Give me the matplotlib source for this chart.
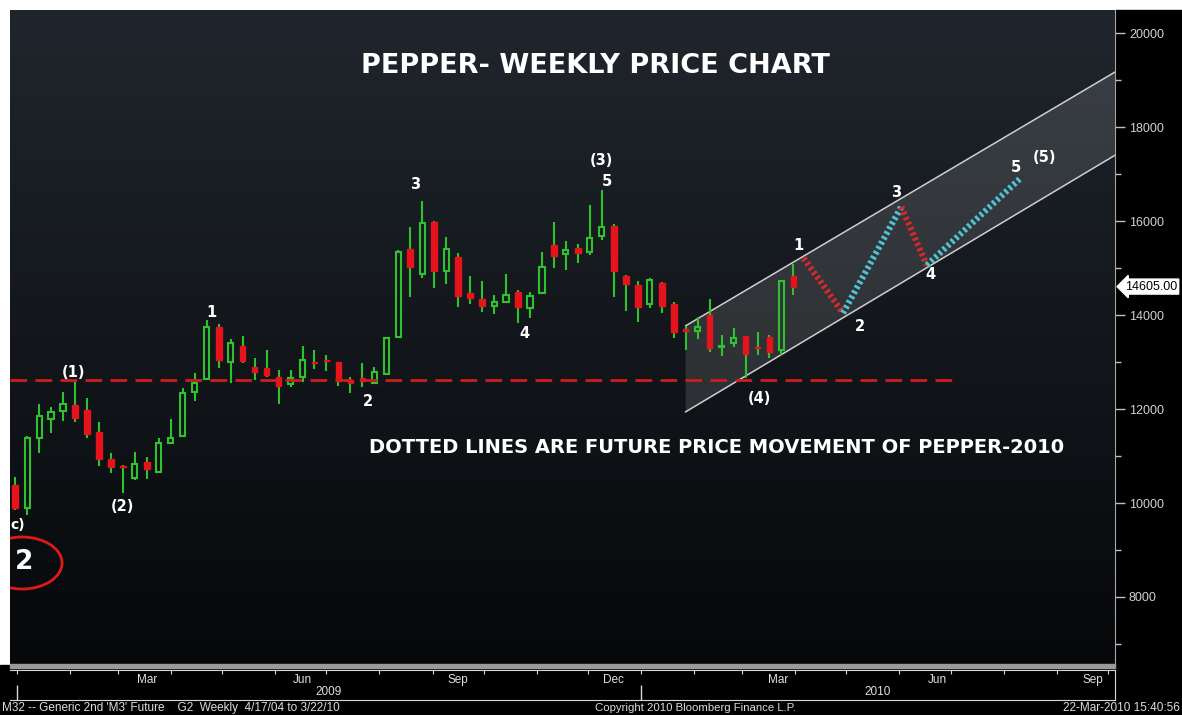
import numpy as np
import pandas as pd
import matplotlib
matplotlib.use("Agg")
from matplotlib import pyplot as plt
from matplotlib import dates as mdates
from matplotlib.patches import Ellipse, Rectangle, Polygon

# weekly candles
week_dates = pd.date_range("2008-12-31", periods=66, freq="7D")
opens = [10380, 9890, 11380, 11790, 11960, 12080, 11980, 11510, 10940, 10780,
         10530, 10870, 10660, 11280, 11430, 12360, 12640, 13750, 13000, 13340,
         12890, 12870, 12680, 12530, 12680, 13000, 13040, 13000, 12620, 12660,
         12550, 12750, 13530, 15400, 14870, 15980, 14940, 15230, 14470, 14340,
         14190, 14280, 14490, 14150, 14470, 15490, 15300, 15420, 15340, 15680,
         15890, 14830, 14640, 14230, 14680, 14230, 13700, 13660, 14000, 13320,
         13400, 13550, 13310, 13530, 13260, 14830]
highs = [10550, 11430, 12100, 12040, 12360, 12570, 12230, 11720, 11060, 10800,
         11080, 10980, 11380, 11790, 12450, 12770, 13890, 13810, 13490, 13550,
         13090, 13260, 12830, 12830, 13340, 13260, 13150, 13010, 12680, 12980,
         12890, 13530, 15380, 15870, 16430, 16000, 15660, 15320, 14830, 14720,
         14430, 14870, 14530, 14490, 15340, 15980, 15570, 15510, 16340, 16660,
         15940, 14850, 14720, 14790, 14700, 14280, 13770, 13960, 14340, 13570,
         13720, 13560, 13640, 13570, 14750, 15090]
lows = [9850, 9745, 11060, 11490, 11750, 11720, 11380, 10790, 10640, 10210,
        10490, 10510, 10640, 11250, 11400, 12170, 12620, 12870, 12550, 12980,
        12620, 12680, 12110, 12470, 12570, 12850, 12810, 12490, 12340, 12470,
        12530, 12720, 13530, 14380, 14790, 14570, 14660, 14170, 14230, 14060,
        14020, 14250, 13830, 13940, 14450, 15000, 14960, 15110, 15280, 15600,
        14380, 14090, 13850, 14150, 14040, 13510, 13260, 13490, 13210, 13130,
        13320, 12650, 13150, 13090, 13150, 14430]
closes = [9890, 11380, 11850, 11940, 12100, 11810, 11470, 10940, 10770, 10760,
          10830, 10720, 11280, 11380, 12340, 12550, 13750, 13040, 13400, 13020,
          12790, 12720, 12490, 12660, 13040, 12980, 13020, 12600, 12550, 12600,
          12790, 13510, 15340, 15020, 15960, 14940, 15400, 14400, 14360, 14190,
          14280, 14430, 14170, 14400, 15020, 15250, 15380, 15320, 15640, 15870,
          14940, 14660, 14170, 14750, 14190, 13640, 13660, 13750, 13300, 13340,
          13510, 13170, 13290, 13210, 14720, 14605]
last_price = 14605

# support line and trend channel
support_level = 12620
support_end = "2010-07-06"
channel_dates = ["2010-01-27", "2010-10-05"]
channel_upper = [13770, 19170]
channel_lower = [11940, 17400]

# projected (dotted) wave path
path_dates = ["2010-04-06", "2010-04-29", "2010-06-02", "2010-06-17", "2010-08-11"]
path_prices = [15210, 14040, 16300, 15060, 16920]
path_colors = ["#d42a2a", "#4fc3d3", "#d42a2a", "#4fc3d3"]

# wave count labels
wave_labels = ["(1)", "(2)", "1", "2", "3", "4", "(3)", "5", "(4)",
               "1", "2", "3", "4", "5", "(5)"]
wave_dates = ["2009-02-03", "2009-03-04", "2009-04-25", "2009-07-25", "2009-08-22",
              "2009-10-25", "2009-12-09", "2009-12-12", "2010-03-11",
              "2010-04-03", "2010-05-09", "2010-05-30", "2010-06-19", "2010-08-08",
              "2010-08-25"]
wave_prices = [12787, 9936, 14064, 12170, 16787, 13617, 17298, 16851, 12234,
               15489, 13745, 16617, 14872, 17149, 17362]

month_labels = ["Mar", "Jun", "Sep", "Dec", "Mar", "Jun", "Sep"]
month_label_dates = ["2009-03-18", "2009-06-17", "2009-09-16", "2009-12-16",
                     "2010-03-22", "2010-06-23", "2010-09-22"]

GREEN = "#2fc22f"
RED = "#e6121c"
BOLD_FONT = ["DejaVu Sans"]

plt.rcParams["font.family"] = ["Liberation Sans", "DejaVu Sans"]

W, H = 1182, 715
fig = plt.figure(figsize=(W / 100, H / 100), dpi=100, facecolor="white")

# black right column and bottom strip
fig.patches.append(Rectangle((1115 / W, 0), 1 - 1115 / W, 1 - 10 / H,
                             transform=fig.transFigure, color="black", zorder=0))
fig.patches.append(Rectangle((0, 0), 1, 50 / H, transform=fig.transFigure,
                             color="black", zorder=0))
# scroll bar
fig.patches.append(Rectangle((10 / W, (715 - 668) / H), 1105 / W, 4 / H,
                             transform=fig.transFigure, color="#9a9a9a", zorder=1))

pos = [10 / W, 50 / H, 1105 / W, 655 / H]

# gradient background
bg = fig.add_axes(pos, zorder=0)
top = np.array([32, 38, 45]) / 255
bot = np.array([6, 8, 10]) / 255
t = np.linspace(0, 1, 256)[:, None]
grad = (top * (1 - t) + bot * t)[:, None, :]
bg.imshow(grad, aspect="auto", extent=[0, 1, 0, 1])
bg.set_axis_off()

ax = fig.add_axes(pos, zorder=1)
ax.set_facecolor("none")

x = mdates.date2num(week_dates)
o = np.array(opens, float)
c = np.array(closes, float)
hi = np.array(highs, float)
lo = np.array(lows, float)
body_top = np.maximum(o, c)
body_bot = np.minimum(o, c)
up = c >= o

ax.vlines(x, body_top, hi, color=GREEN, lw=1.5, zorder=3)
ax.vlines(x, lo, body_bot, color=GREEN, lw=1.5, zorder=3)
ax.bar(x[up], np.maximum(c[up] - o[up], 15), bottom=o[up], width=3.0,
       facecolor="none", edgecolor=GREEN, lw=1.5, zorder=4)
ax.bar(x[~up], np.maximum(o[~up] - c[~up], 15), bottom=c[~up], width=3.3,
       facecolor=RED, edgecolor=RED, lw=1.0, zorder=4)

# support line
xl0 = mdates.date2num(pd.Timestamp("2008-12-28"))
xl1 = mdates.date2num(pd.Timestamp("2010-10-05"))
ax.plot([xl0, mdates.date2num(pd.Timestamp(support_end))],
        [support_level, support_level], color="#d01c1c", lw=2,
        dashes=(6, 3), zorder=5)

# channel
cx = mdates.date2num(pd.to_datetime(channel_dates))
poly = Polygon([[cx[0], channel_lower[0]], [cx[1], channel_lower[1]],
                [cx[1], channel_upper[1]], [cx[0], channel_upper[0]]],
               closed=True, facecolor="white", alpha=0.12, edgecolor="none", zorder=2)
ax.add_patch(poly)
ax.plot(cx, channel_upper, color="#cfcfcf", lw=1.1, zorder=2)
ax.plot(cx, channel_lower, color="#cfcfcf", lw=1.1, zorder=2)

# projected path
px = mdates.date2num(pd.to_datetime(path_dates))
for i in range(len(px) - 1):
    ax.plot(px[i:i + 2], path_prices[i:i + 2], color=path_colors[i], lw=4.5,
            dashes=(0.45, 0.45), solid_capstyle="butt", zorder=6)

# wave labels
for lab, d, p in zip(wave_labels, wave_dates, wave_prices):
    ax.text(mdates.date2num(pd.Timestamp(d)), p, lab, color="white",
            fontsize=10.5, fontweight="bold", family=BOLD_FONT,
            ha="center", va="center", zorder=7)

ax.text(0.0072, 0.2137, "c)", transform=ax.transAxes, color="white",
        fontsize=10, fontweight="bold", family=BOLD_FONT, ha="center", va="center")
ax.add_patch(Ellipse((0.0109, 0.1557), 0.0724, 0.0794, transform=ax.transAxes,
                     facecolor="none", edgecolor="#e01818", lw=2))
ax.text(0.0127, 0.157, "2", transform=ax.transAxes, color="white",
        fontsize=19, fontweight="bold", family=BOLD_FONT, ha="center", va="center")

ax.text(0.5294, 0.915, "PEPPER- WEEKLY PRICE CHART", transform=ax.transAxes,
        color="white", fontsize=19.5, fontweight="bold", family=BOLD_FONT,
        ha="center", va="center")
ax.text(0.639, 0.3313, "DOTTED LINES ARE FUTURE PRICE MOVEMENT OF PEPPER-2010",
        transform=ax.transAxes, color="white", fontsize=14, fontweight="bold",
        family=BOLD_FONT, ha="center", va="center")

ax.set_xlim(xl0, xl1)
ax.set_ylim(6553, 20490)
for s in ["top", "left", "bottom"]:
    ax.spines[s].set_visible(False)
ax.spines["right"].set_color("#a8a8a8")
ax.set_xticks([])
ax.yaxis.tick_right()
ax.set_yticks(np.arange(8000, 20001, 2000))
ax.set_yticks(np.arange(7000, 20001, 1000), minor=True)
ax.tick_params(axis="y", which="major", length=7, width=1, color="#c0c0c0",
               labelcolor="#d0d0d0", labelsize=9, pad=3)
ax.tick_params(axis="y", which="minor", length=4, width=1, color="#c0c0c0")

ax.text(1.009, last_price, f"{last_price:.2f}", color="black", fontsize=9,
        ha="left", va="center",
        transform=matplotlib.transforms.blended_transform_factory(ax.transAxes, ax.transData),
        bbox=dict(boxstyle="larrow,pad=0.12", facecolor="white", edgecolor="white"),
        zorder=8, clip_on=False)

# date axis box
ax2 = fig.add_axes([10 / W, 15 / H, 1105 / W, 30 / H], zorder=1)
ax2.set_facecolor("black")
ax2.set_xlim(xl0, xl1)
ax2.set_ylim(0, 1)
ax2.spines["left"].set_visible(False)
for s in ["top", "bottom", "right"]:
    ax2.spines[s].set_color("#d8d8d8")
ax2.set_yticks([])
ax2.xaxis.set_major_locator(mdates.MonthLocator())
ax2.tick_params(axis="x", which="major", top=True, bottom=False, direction="in",
                length=3, color="#d8d8d8", labelbottom=False)
for lab, d in zip(month_labels, month_label_dates):
    ax2.text(mdates.date2num(pd.Timestamp(d)), 0.68, lab, color="#e0e0e0",
             fontsize=8.5, ha="center", va="center")
y09 = mdates.date2num(pd.Timestamp("2009-01-01"))
y10 = mdates.date2num(pd.Timestamp("2010-01-01"))
ax2.vlines([y09, y10], 0, 0.5, color="#d8d8d8", lw=1)
ax2.text((y09 + y10) / 2, 0.27, "2009", color="#e0e0e0", fontsize=8.5,
         ha="center", va="center")
ax2.text((y10 + xl1) / 2, 0.27, "2010", color="#e0e0e0", fontsize=8.5,
         ha="center", va="center")

fig.text(2 / W, 7 / H, "M32 -- Generic 2nd 'M3' Future    G2  Weekly  4/17/04 to 3/22/10",
         color="#dcdcdc", fontsize=8.5, ha="left", va="center")
fig.text(695 / W, 7 / H, "Copyright 2010 Bloomberg Finance L.P.", color="#dcdcdc",
         fontsize=8.2, ha="center", va="center")
fig.text(1180 / W, 7 / H, "22-Mar-2010 15:40:56", color="#dcdcdc", fontsize=8.5,
         ha="right", va="center")

fig.savefig("out.png", dpi=100, facecolor=fig.get_facecolor())
plt.close(fig)
